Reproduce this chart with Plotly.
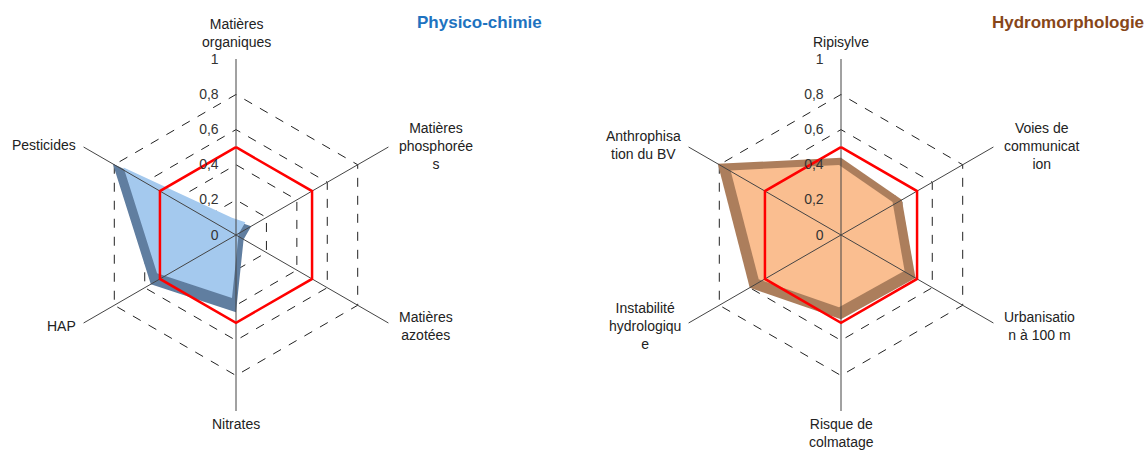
import math
import plotly.graph_objects as go

W, H = 1147, 451

# --- données ---
phys_labels = ["Matières<br>organiques", "Matières<br>phosphorée<br>s", "Matières<br>azotées",
               "Nitrates", "HAP", "Pesticides"]
phys_values = [0.08, 0.10, 0.05, 0.44, 0.56, 0.81]

hydro_labels = ["Ripisylve", "Voies de<br>communicat<br>ion", "Urbanisatio<br>n à 100 m",
                "Risque de<br>colmatage", "Instabilité<br>hydrologiqu<br>e", "Anthrophisa<br>tion du BV"]
hydro_values = [0.44, 0.40, 0.49, 0.48, 0.60, 0.81]

threshold = [0.5, 0.5, 0.5, 0.5, 0.5, 0.5]
radial_ticks = [0, 0.2, 0.4, 0.6, 0.8, 1]

FONT = "Liberation Sans, Arial, sans-serif"
NOCOL = "rgba(0,0,0,0)"


def dom(cx, cy, r):
    # domaine carré centré sur (cx, cy), en pixels depuis le coin haut-gauche
    return dict(x=[(cx - r) / W, (cx + r) / W], y=[(H - cy - r) / H, (H - cy + r) / H])


def closed(vals):
    return list(vals) + [vals[0]]


def polar_layout(domain, labels, grid=False, spokes=False, text=False):
    return dict(
        domain=domain,
        bgcolor=NOCOL,
        gridshape="linear",
        radialaxis=dict(
            range=[0, 1.002], tickvals=radial_ticks, angle=90, side="counterclockwise",
            tickangle=90, ticks="outside" if text else "", ticklen=12, tickcolor=NOCOL,
            showgrid=grid, gridcolor="#222", griddash="dash", gridwidth=1,
            showline=False, showticklabels=text,
            tickfont=dict(family=FONT, size=14, color="#333"),
        ),
        angularaxis=dict(
            type="category", categoryarray=labels, rotation=90, direction="clockwise",
            showgrid=spokes, gridcolor="#444", gridwidth=1,
            showline=False, ticks="", showticklabels=False,
        ),
    )


fig = go.Figure()

charts = [
    # labels, valeurs, centre x, couleur foncée, couleur claire, sous-graphes, décalage de la face claire
    (phys_labels, phys_values, 236, "rgb(96,126,160)", "rgb(164,201,238)", ("polar", "polar2", "polar3"), (-4, -5)),
    (hydro_labels, hydro_values, 841, "rgb(172,126,92)", "rgb(250,190,144)", ("polar4", "polar5", "polar6"), (-2, -2)),
]
cy, R = 235, 176

for labels, values, cx, dark, light, ids, shift in charts:
    # face sombre (bord du relief)
    fig.add_trace(go.Scatterpolar(
        r=closed(values), theta=closed(labels), subplot=ids[0], mode="lines",
        fill="toself", fillcolor=dark, line=dict(width=0, color=dark), showlegend=False))
    # face claire, légèrement en retrait
    fig.add_trace(go.Scatterpolar(
        r=closed(values), theta=closed(labels), subplot=ids[1], mode="lines",
        fill="toself", fillcolor=light, line=dict(width=0, color=light), showlegend=False))
    # seuil rouge
    fig.add_trace(go.Scatterpolar(
        r=closed(threshold), theta=closed(labels), subplot=ids[2], mode="lines",
        line=dict(color="#ff0000", width=2.5), showlegend=False))

    fig.update_layout({
        ids[0]: polar_layout(dom(cx, cy, R), labels, grid=True),
        ids[1]: polar_layout(dom(cx + shift[0], cy + shift[1], R * 0.88), labels),
        ids[2]: polar_layout(dom(cx, cy, R), labels, spokes=True, text=True),
    })

    # étiquettes des axes, centrées verticalement sur les sommets comme dans Excel
    for i, lab in enumerate(labels):
        ang = math.radians(90 - 60 * i)
        vx, vy = cx + R * math.cos(ang), cy - R * math.sin(ang)
        if i == 0:
            x, y, xa, ya = vx, vy - 7, "center", "bottom"
        elif i == 3:
            x, y, xa, ya = vx, vy + 3, "center", "top"
        elif i in (1, 2):
            x, y, xa, ya = vx + 9, vy + (3 if i == 2 else -1), "left", "middle"
        else:
            x, y, xa, ya = vx - 6, vy + (3 if i == 4 else -2), "right", "middle"
        fig.add_annotation(text=lab, x=x / W, y=1 - y / H, xref="paper", yref="paper",
                           xanchor=xa, yanchor=ya, align="center", showarrow=False,
                           font=dict(family=FONT, size=14, color="#222"))

fig.add_annotation(text="<b>Physico-chimie</b>", x=480 / W, y=1 - 22 / H,
                   xref="paper", yref="paper", xanchor="center", yanchor="middle",
                   showarrow=False, font=dict(family=FONT, size=17, color="rgb(30,115,192)"))
fig.add_annotation(text="<b>Hydromorphologie</b>", x=1146 / W, y=1 - 22 / H,
                   xref="paper", yref="paper", xanchor="right", yanchor="middle",
                   showarrow=False, font=dict(family=FONT, size=17, color="rgb(135,70,25)"))

fig.update_layout(
    width=W, height=H,
    margin=dict(l=0, r=0, t=0, b=0),
    paper_bgcolor="white", plot_bgcolor="white",
    separators=", ",
    showlegend=False,
    font=dict(family=FONT),
)

fig.write_html("out.html", config={"displayModeBar": False},
               post_script="document.body.style.margin='0';")
